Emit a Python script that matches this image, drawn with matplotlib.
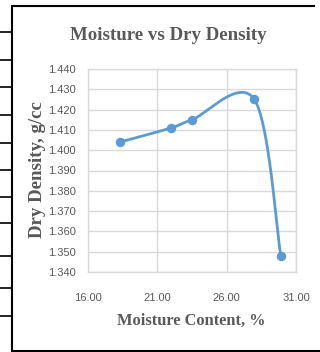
import numpy as np
import matplotlib
matplotlib.use("Agg")
import matplotlib.pyplot as plt
from matplotlib import font_manager
from matplotlib.lines import Line2D

# Compaction test results
moisture = [18.3, 22.0, 23.5, 28.0, 29.9]          # moisture content, %
dry_density = [1.404, 1.411, 1.415, 1.425, 1.348]  # dry density, g/cc

x_ticks = [16.0, 21.0, 26.0, 31.0]
y_ticks = [1.340, 1.350, 1.360, 1.370, 1.380, 1.390, 1.400,
           1.410, 1.420, 1.430, 1.440]

title = "Moisture vs Dry Density"
x_title = "Moisture Content, %"
y_title = "Dry Density, g/cc"

TEXT = "#595959"
GRID = "#d9d9d9"
LINE = "#5b9bd5"

W, H = 320, 352
DPI = 100

installed = {f.name for f in font_manager.fontManager.ttflist}
tick_font = "Liberation Sans Narrow" if "Liberation Sans Narrow" in installed else "Liberation Sans"
tick_size = 9.0 if tick_font == "Liberation Sans Narrow" else 8.0
serif = "Liberation Serif"


def smooth_curve(xs, ys, n=60):
    """Bezier smoothing through every point (Catmull-Rom style control points)."""
    p = np.column_stack([xs, ys]).astype(float)
    ext = np.vstack([p[0], p, p[-1]])
    t = np.linspace(0, 1, n)[:, None]
    out = []
    for i in range(len(p) - 1):
        p0, p3 = ext[i + 1], ext[i + 2]
        c1 = p0 + (ext[i + 2] - ext[i]) / 6.0
        c2 = p3 - (ext[i + 3] - ext[i + 1]) / 6.0
        seg = ((1 - t) ** 3) * p0 + 3 * ((1 - t) ** 2) * t * c1 \
            + 3 * (1 - t) * t ** 2 * c2 + t ** 3 * p3
        out.append(seg if i == 0 else seg[1:])
    pts = np.vstack(out)
    return pts[:, 0], pts[:, 1]


fig = plt.figure(figsize=(W / DPI, H / DPI), dpi=DPI, facecolor="white")


def fx(px):
    return px / W


def fy(py):
    return 1 - py / H


ax = fig.add_axes([fx(88), fy(272), fx(296) - fx(88), fy(69) - fy(272)])
ax.set_facecolor("white")

sx, sy = smooth_curve(moisture, dry_density)
ax.plot(sx, sy, color=LINE, lw=2.0, solid_capstyle="round", zorder=3)
ax.plot(moisture, dry_density, "o", color=LINE, ms=5.8, zorder=4)

ax.set_xlim(x_ticks[0], x_ticks[-1])
ax.set_ylim(y_ticks[0], y_ticks[-1])
ax.set_xticks(x_ticks)
ax.set_yticks(y_ticks)
ax.set_xticklabels([f"{v:.2f}" for v in x_ticks])
ax.set_yticklabels([f"{v:.3f}" for v in y_ticks])
ax.grid(True, color=GRID, lw=1.0, zorder=0)
ax.set_axisbelow(True)
for s in ax.spines.values():
    s.set_color(GRID)
    s.set_linewidth(1.0)
ax.tick_params(length=0, colors=TEXT, labelsize=tick_size)
ax.tick_params(axis="y", pad=9)
ax.tick_params(axis="x", pad=15)
for lab in ax.get_xticklabels() + ax.get_yticklabels():
    lab.set_fontfamily(tick_font)

fig.text(fx(168), fy(35), title, ha="center", va="center",
         family=serif, weight="bold", size=13.6, color=TEXT)
fig.text(fx(191), fy(321), x_title, ha="center", va="center",
         family=serif, weight="bold", size=11.8, color=TEXT)
fig.text(fx(37), fy(170), y_title, ha="center", va="center", rotation=90,
         family=serif, weight="bold", size=13.6, color=TEXT)

# Sheet frame and cell borders around the chart
frame = dict(color="black", lw=1.5, solid_capstyle="butt")
fig.add_artist(Line2D([fx(11), fx(315)], [fy(6), fy(6)], **frame))
fig.add_artist(Line2D([fx(11.5), fx(11.5)], [fy(5.3), fy(351)], **frame))
fig.add_artist(Line2D([fx(11), fx(320)], [fy(350.5), fy(350.5)], **frame))
for yy in [32.3, 60, 87.3, 115, 142.7, 170, 196.7, 223.3, 256, 288.3, 315.7]:
    fig.add_artist(Line2D([fx(0), fx(11)], [fy(yy), fy(yy)], color="black", lw=1.2))

fig.savefig("out.png", dpi=DPI, facecolor="white")
